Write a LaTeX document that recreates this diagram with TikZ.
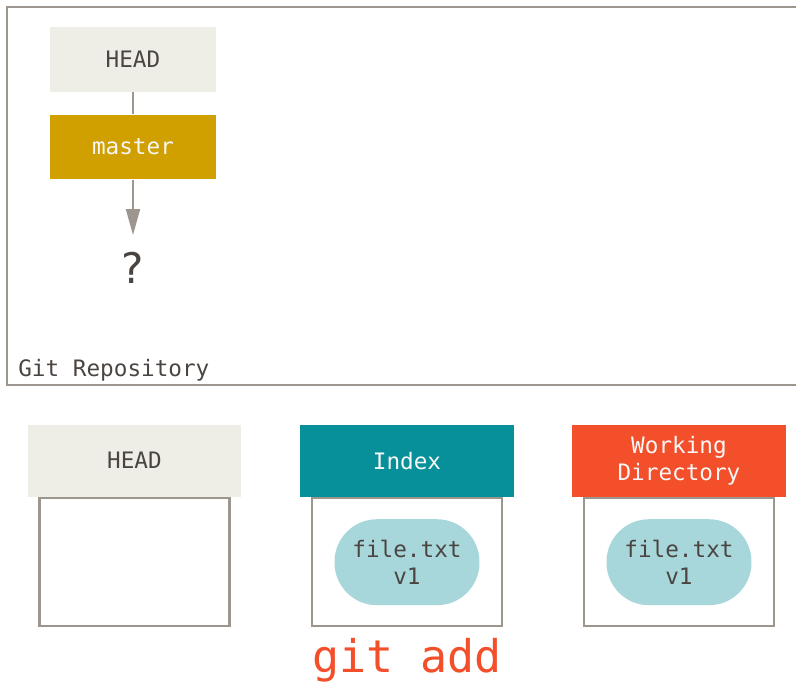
\documentclass[tikz,border=0pt]{standalone}
\usepackage{fontspec}
\setmonofont{DejaVu Sans Mono}
\newfontfamily\qfont{DejaVu Sans}
\usetikzlibrary{arrows.meta,positioning}
\definecolor{gitline}{HTML}{9C968F}
\definecolor{gittext}{HTML}{4B4542}
\definecolor{headfill}{HTML}{EEEDE6}
\definecolor{masterfill}{HTML}{CFA000}
\definecolor{idxfill}{HTML}{08909A}
\definecolor{wdfill}{HTML}{F24F2A}
\definecolor{filefill}{HTML}{A8D7DB}
\tikzset{
  box/.style={minimum width=3.32cm,minimum height=1.3cm,inner sep=0pt},
  hdr/.style={minimum width=4.28cm,minimum height=1.44cm,inner sep=0pt,align=center},
  area/.style={draw=gitline,line width=1.4pt,minimum width=3.8cm,minimum height=2.56cm,inner sep=0pt,anchor=north},
  file/.style={fill=filefill,rounded corners=0.85cm,minimum width=2.9cm,minimum height=1.72cm,inner sep=0pt,align=center}
}
\begin{document}
\begin{tikzpicture}[x=0.02cm,y=-0.02cm,>={Triangle[width=0.28cm,length=0.52cm]},
    font=\ttfamily\fontsize{12.9}{15.8}\selectfont,text=gittext]
  \useasboundingbox (0,0) rectangle (796,683);
  % repository frame
  \draw[gitline,line width=1.4pt] (796,7) -- (7,7) -- (7,385) -- (796,385);
  \node[anchor=west,inner sep=0pt] (repolabel) at (18,370) {Git Repository};
  \node[box,fill=headfill] (headtop) at (133,59.5) {HEAD};
  \node[box,fill=masterfill,text=white!94!gray] (master) at (133,147) {master};
  \coordinate (tip) at (133,235);
  \node[font=\qfont\fontsize{24}{28}\selectfont] (qmark) at (133,268) {?};
  \draw[gitline,line width=1.2pt] (headtop) -- (master);
  \draw[->,gitline,line width=1.2pt] (master) -- (tip);
  % trees
  \node[area] (headbody) at (134.5,497) {};
  \node[area] (idxbody) at (407,497) {};
  \node[area] (wdbody) at (679,497) {};
  \node[hdr,fill=headfill,above=0pt of headbody] (headhdr) {HEAD};
  \node[hdr,fill=idxfill,text=white!94!gray,above=0pt of idxbody] (idxhdr) {Index};
  \node[hdr,fill=wdfill,text=white!94!gray,above=0pt of wdbody] (wdhdr) {Working\\Directory};
  \node[file] (idxfile) at (idxbody) {file.txt\\v1};
  \node[file] (wdfile) at (wdbody) {file.txt\\v1};
  \node[text=wdfill,font=\ttfamily\fontsize{25.6}{30}\selectfont] (gitadd) at (407,660) {git add};
\end{tikzpicture}
\end{document}
